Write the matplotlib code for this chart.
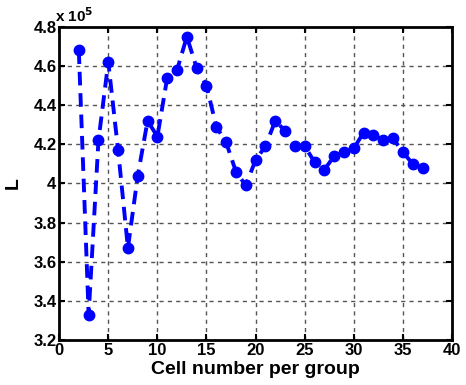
import numpy as np
import matplotlib
matplotlib.use('Agg')
import matplotlib.pyplot as plt

# cell number per group and L (in units of 1e5)
cells = np.arange(2, 38)
L = [4.68, 3.33, 4.22, 4.62, 4.17, 3.67, 4.04, 4.32, 4.24, 4.54,
     4.58, 4.75, 4.59, 4.50, 4.29, 4.21, 4.06, 3.99, 4.12, 4.19,
     4.32, 4.27, 4.19, 4.19, 4.11, 4.07, 4.14, 4.16, 4.18, 4.26,
     4.25, 4.22, 4.23, 4.16, 4.10, 4.08]
xticks = np.arange(0, 41, 5)
yticks = np.arange(3.2, 4.81, 0.2)
ylabels = ['3.2', '3.4', '3.6', '3.8', '4', '4.2', '4.4', '4.6', '4.8']

plt.rcParams['font.family'] = 'Liberation Sans'
plt.rcParams['font.weight'] = 'bold'

fig = plt.figure(figsize=(4.66, 3.85), dpi=100)
ax = fig.add_axes([0.127, 0.117, 0.843, 0.813])

# dotted grid
ax.vlines(xticks[1:-1], 3.2, 4.8, colors='#555555', linewidth=1.0, linestyles=(0, (3, 3)), zorder=1)
ax.hlines(yticks[1:-1], 0, 40, colors='#555555', linewidth=1.0, linestyles=(0, (3, 3)), zorder=1)

ax.plot(cells, L, '--o', color='blue', linewidth=2.8, markersize=7.5, dashes=(3.5, 2), zorder=3)
ax.set_xlim(0, 40)
ax.set_ylim(3.2, 4.8)
ax.set_xticks(xticks)
ax.set_yticks(yticks)
ax.set_yticklabels(ylabels)
ax.tick_params(direction='in', labelsize=12, width=1.5, length=4, top=True, right=True, pad=2)
for s in ax.spines.values():
    s.set_linewidth(2)
ax.set_xlabel('Cell number per group', fontsize=14, fontweight='bold', labelpad=2)
ax.set_ylabel('L', fontsize=14, fontweight='bold', labelpad=8)
ax.text(-0.01, 1.015, r'x 10$^{5}$', transform=ax.transAxes, fontsize=11, fontweight='bold')

fig.savefig('out.png', dpi=100)
